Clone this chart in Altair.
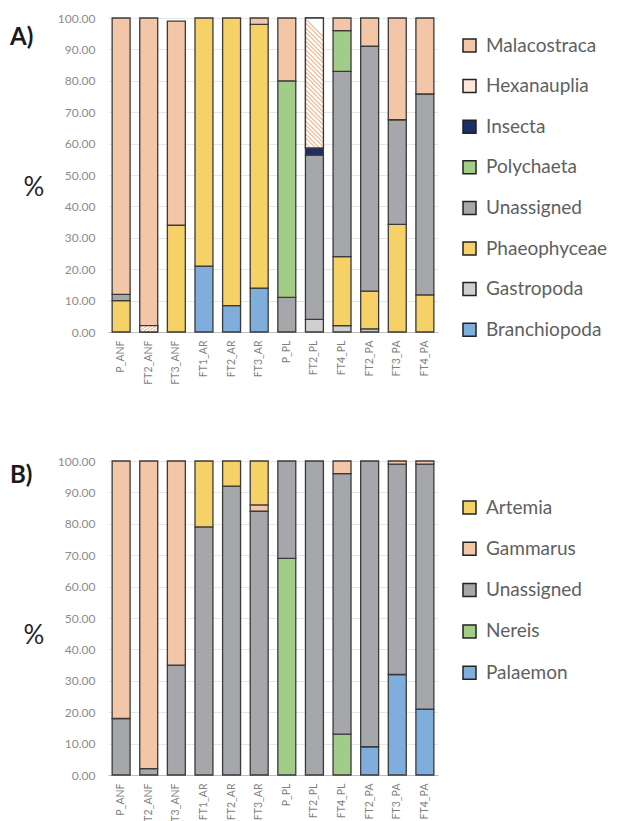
import altair as alt
import pandas as pd

# ---------------- Panel A data (segment sizes, % ) ----------------
samples_a = ["P_ANF", "FT2_ANF", "FT3_ANF", "FT1_AR", "FT2_AR", "FT3_AR",
             "P_PL", "FT2_PL", "FT4_PL", "FT2_PA", "FT3_PA", "FT4_PA"]
# stacking order: bottom -> top
taxa_a = ["Branchiopoda", "Gastropoda", "Phaeophyceae", "Unassigned",
          "Polychaeta", "Insecta", "Hexanauplia", "Malacostraca"]
branchiopoda = [0, 0, 0, 21, 8.4, 14, 0, 0, 0, 0, 0, 0]
gastropoda = [0, 0, 0, 0, 0, 0, 0, 4, 2, 1, 0, 0]
phaeophyceae = [10, 0, 34, 79, 91.6, 84, 0, 0, 22, 12, 34.3, 11.8]
unassigned_a = [2, 0, 0, 0, 0, 0, 11, 52.3, 59, 78, 33.3, 64]
polychaeta = [0, 0, 0, 0, 0, 0, 69, 0, 13, 0, 0, 0]
insecta = [0, 0, 0, 0, 0, 0, 0, 2.3, 0, 0, 0, 0]
hexanauplia = [0, 2, 0, 0, 0, 0, 0, 41.4, 0, 0, 0, 0]
malacostraca = [88, 98, 65, 0, 0, 2, 20, 0, 4, 9, 32.4, 24.2]

# ---------------- Panel B data ----------------
samples_b = ["P_ANF", "T2_ANF", "T3_ANF", "FT1_AR", "FT2_AR", "FT3_AR",
             "P_PL", "FT2_PL", "FT4_PL", "FT2_PA", "FT3_PA", "FT4_PA"]
taxa_b = ["Palaemon", "Nereis", "Unassigned", "Gammarus", "Artemia"]
palaemon = [0, 0, 0, 0, 0, 0, 0, 0, 0, 9, 32, 21]
nereis = [0, 0, 0, 0, 0, 0, 69, 0, 13, 0, 0, 0]
unassigned_b = [18, 2, 35, 79, 92, 84, 31, 100, 83, 91, 67, 78]
gammarus = [82, 98, 65, 0, 0, 2, 0, 0, 4, 0, 1, 1]
artemia = [0, 0, 0, 21, 8, 14, 0, 0, 0, 0, 0, 0]

PEACH = "#F4C6A8"
YELLOW = "#F5D168"
GRAY = "#A6A7AB"
GREEN = "#A1CD88"
BLUE = "#80AEDC"
NAVY = "#1C2E66"

colors_a = {"Malacostraca": PEACH, "Hexanauplia": "#FBE6D8", "Insecta": NAVY,
            "Polychaeta": GREEN, "Unassigned": GRAY, "Phaeophyceae": YELLOW,
            "Gastropoda": "#CFCFCF", "Branchiopoda": BLUE}
colors_b = {"Artemia": YELLOW, "Gammarus": PEACH, "Unassigned": GRAY,
            "Nereis": GREEN, "Palaemon": BLUE}

values_a = {"Branchiopoda": branchiopoda, "Gastropoda": gastropoda,
            "Phaeophyceae": phaeophyceae, "Unassigned": unassigned_a,
            "Polychaeta": polychaeta, "Insecta": insecta,
            "Hexanauplia": hexanauplia, "Malacostraca": malacostraca}
values_b = {"Palaemon": palaemon, "Nereis": nereis, "Unassigned": unassigned_b,
            "Gammarus": gammarus, "Artemia": artemia}


def build_df(samples, taxa, values):
    rows = []
    for i, s in enumerate(samples):
        cum = 0.0
        for k, t in enumerate(taxa):
            v = values[t][i]
            if v > 0:
                rows.append(dict(sample=s, taxon=t, y0=cum, y1=cum + v, order=k))
            cum += v
    return pd.DataFrame(rows)


df_a = build_df(samples_a, taxa_a, values_a)
df_b = build_df(samples_b, taxa_b, values_b)

# diagonal stripe gradient for Hexanauplia
N = 30
stops = []
for j in range(N):
    t0 = j / N
    tm = (j + 0.45) / N
    t1 = (j + 1) / N
    stops += [{"offset": t0, "color": PEACH}, {"offset": tm, "color": PEACH},
              {"offset": tm, "color": "#FFFFFF"}, {"offset": t1, "color": "#FFFFFF"}]
stripe = {"gradient": "linear", "x1": 0, "y1": 1, "x2": 0.138, "y2": 0, "stops": stops}

W, H = 330, 314
FONT = "Lato"


def x_enc(samples):
    return alt.X("sample:N", sort=samples, title=None,
                 scale=alt.Scale(paddingInner=0.35, paddingOuter=0.15),
                 axis=alt.Axis(labelAngle=-90, labelFont=FONT, labelFontSize=10.5,
                               labelColor="#7f7f7f", ticks=False, domainColor="#BFBFBF",
                               labelPadding=8, grid=False))


def y_enc():
    return alt.Y("y0:Q", title=None, scale=alt.Scale(domain=[0, 100], nice=False),
                 axis=alt.Axis(values=list(range(0, 101, 10)), format=".2f",
                               labelFont=FONT, labelFontSize=12, labelColor="#8c8c8c",
                               ticks=False, domain=False, gridColor="#E6E6E6",
                               labelPadding=13))


def panel(df, samples, colors, legend_order, letter, letter_y, pct_y, legend_y,
          row_pad, hatched=None):
    bars = alt.Chart(df).mark_bar(stroke="#3a3a3a", strokeWidth=1.3).encode(
        x=x_enc(samples),
        y=y_enc(),
        y2="y1:Q",
        color=alt.Color("taxon:N",
                        scale=alt.Scale(domain=legend_order,
                                        range=[colors[t] for t in legend_order]),
                        legend=alt.Legend(title=None, orient="none", legendX=352,
                                          legendY=legend_y, symbolType="square",
                                          symbolSize=169, symbolStrokeColor="#222222",
                                          symbolStrokeWidth=1.5, labelFont=FONT,
                                          labelFontSize=19, labelColor="#606060",
                                          rowPadding=row_pad, labelOffset=7, padding=0,
                                          symbolOpacity=1)),
    )
    layers = [bars]
    if hatched:
        over = alt.Chart(df).transform_filter(
            alt.datum.taxon == hatched
        ).mark_bar(fill=stripe, stroke="#3a3a3a", strokeWidth=1.3).encode(
            x=x_enc(samples), y=y_enc(), y2="y1:Q"
        )
        layers.append(over)
    lt = alt.Chart(pd.DataFrame({"t": [letter]})).mark_text(
        align="left", baseline="middle", font=FONT, fontSize=24, fontWeight="bold",
        color="#1a1a1a").encode(x=alt.value(-98), y=alt.value(letter_y), text="t:N")
    pc = alt.Chart(pd.DataFrame({"t": ["%"]})).mark_text(
        align="center", baseline="middle", font=FONT, fontSize=26,
        color="#262626").encode(x=alt.value(-74), y=alt.value(pct_y), text="t:N")
    layers += [lt, pc]
    return alt.layer(*layers).properties(width=W, height=H)


legend_a = list(reversed(taxa_a))
legend_b = list(reversed(taxa_b))

pa = panel(df_a, samples_a, colors_a, legend_a, "A)", 20, 170, 18, 20.6,
           hatched="Hexanauplia")
pb = panel(df_b, samples_b, colors_b, legend_b, "B)", 15, 175, 37, 21.3)

chart = alt.vconcat(pa, pb, spacing=129, bounds="flush").resolve_scale(
    color="independent", x="independent", y="independent"
).properties(
    padding={"left": 2, "top": 4, "right": 0, "bottom": 0}
).configure_view(stroke=None)

chart.save("out.html", embed_options={"renderer": "svg", "actions": False})
